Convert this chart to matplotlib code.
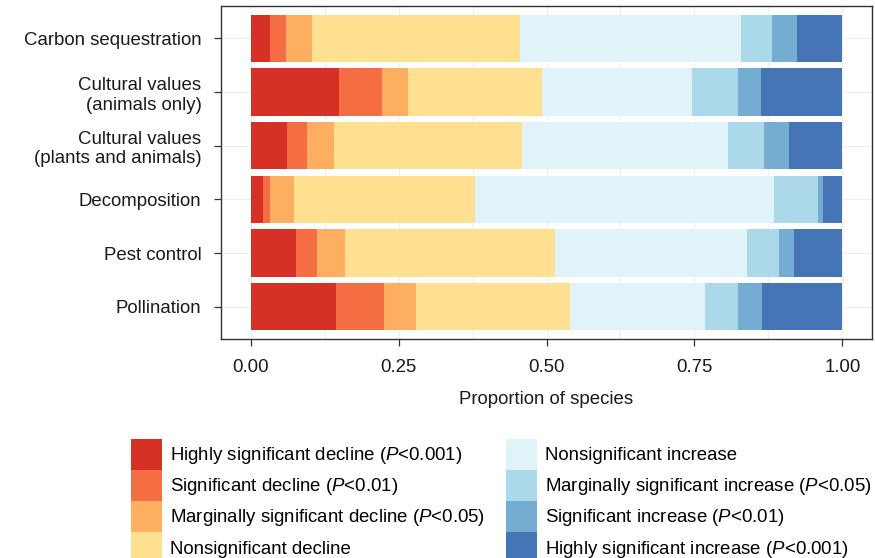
import numpy as np
import matplotlib.pyplot as plt
from matplotlib.patches import Patch

plt.rcParams['font.family'] = ['Liberation Sans', 'DejaVu Sans']
plt.rcParams['mathtext.fontset'] = 'custom'
plt.rcParams['mathtext.rm'] = 'Liberation Sans'
plt.rcParams['mathtext.it'] = 'Liberation Sans:italic'

FS = 13.4

# Service categories (top to bottom)
services = ["Carbon sequestration", "Cultural values\n(animals only)",
            "Cultural values\n(plants and animals)", "Decomposition",
            "Pest control", "Pollination"]

# Proportion of species in each trend class, per service
highly_sig_decline = [0.033, 0.150, 0.061, 0.021, 0.076, 0.145]
sig_decline        = [0.026, 0.072, 0.035, 0.011, 0.037, 0.080]
marg_sig_decline   = [0.044, 0.044, 0.045, 0.042, 0.047, 0.054]
nonsig_decline     = [0.353, 0.226, 0.318, 0.306, 0.354, 0.261]
nonsig_increase    = [0.372, 0.254, 0.348, 0.505, 0.324, 0.228]
marg_sig_increase  = [0.053, 0.077, 0.061, 0.073, 0.055, 0.056]
sig_increase       = [0.042, 0.040, 0.041, 0.010, 0.026, 0.040]
highly_sig_increase = [0.077, 0.137, 0.091, 0.032, 0.081, 0.136]

series = [highly_sig_decline, sig_decline, marg_sig_decline, nonsig_decline,
          nonsig_increase, marg_sig_increase, sig_increase, highly_sig_increase]
labels = ["Highly significant decline ($\\it{P}$<0.001)",
          "Significant decline ($\\it{P}$<0.01)",
          "Marginally significant decline ($\\it{P}$<0.05)",
          "Nonsignificant decline",
          "Nonsignificant increase",
          "Marginally significant increase ($\\it{P}$<0.05)",
          "Significant increase ($\\it{P}$<0.01)",
          "Highly significant increase ($\\it{P}$<0.001)"]
colors = ["#d73027", "#f46d43", "#fdae61", "#fee090",
          "#e0f3f8", "#abd9e9", "#74add1", "#4575b4"]

fig = plt.figure(figsize=(8.75, 5.58), dpi=100)
ax = fig.add_axes([221 / 875, 1 - 339 / 558, 651 / 875, 333 / 558])

y = np.arange(len(services))
left = np.zeros(len(services))
for vals, c in zip(series, colors):
    ax.barh(y, vals, left=left, height=0.88, color=c, edgecolor='none', zorder=2)
    left += np.array(vals)

ax.set_xlim(-0.05, 1.05)
ax.set_ylim(len(services) - 0.4, -0.6)
ax.set_yticks(y)
ax.set_yticklabels(services, fontsize=FS, color='#1a1a1a')
ax.set_xticks([0, 0.25, 0.5, 0.75, 1.0])
ax.set_xticklabels(["0.00", "0.25", "0.50", "0.75", "1.00"], fontsize=FS,
                   color='#1a1a1a')
ax.set_xticks([0.125, 0.375, 0.625, 0.875], minor=True)
ax.tick_params(axis='both', which='major', length=5, width=0.9,
               color='#333333')
ax.tick_params(axis='x', which='major', pad=9.5)
ax.tick_params(axis='y', which='major', pad=9)
ax.tick_params(axis='x', which='minor', length=0)
ax.grid(True, which='both', color='#eeeeee', linewidth=0.8, zorder=0)
ax.set_axisbelow(True)
for s in ax.spines.values():
    s.set_color('#333333')
    s.set_linewidth(1.0)
ax.set_xlabel("Proportion of species", fontsize=FS, color='#1a1a1a',
              labelpad=11)

handles = [Patch(facecolor=c, edgecolor='none') for c in colors]
fig.legend(handles, labels, ncol=2, loc='upper left',
           bbox_to_anchor=(131 / 875, 1 - 439 / 558), frameon=False,
           fontsize=FS, handlelength=1.67, handleheight=2.19,
           handletextpad=0.43, labelspacing=0, columnspacing=1.1,
           borderpad=0, borderaxespad=0)

fig.savefig("out.png", dpi=100)
